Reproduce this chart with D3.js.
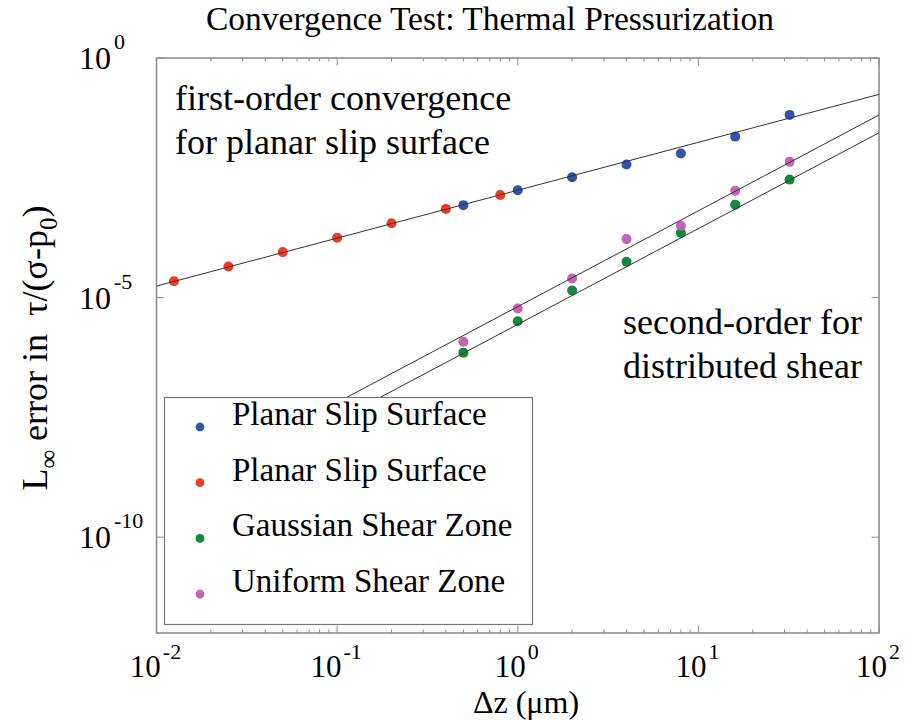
<!DOCTYPE html>
<html>
<head>
<meta charset="utf-8">
<script src="https://cdn.jsdelivr.net/npm/d3@7"></script>
<style>
  body { margin: 0; background: #fff; }
  text { font-family: "Liberation Serif", "Times New Roman", serif; fill: #000; }
</style>
</head>
<body>
<svg id="chart" width="921" height="721"></svg>
<script>
// grid spacing (um)
var dzFine = [0.0125, 0.025, 0.05, 0.1, 0.2, 0.4, 0.8];
var dzCoarse = [0.5, 1, 2, 4, 8, 16, 32];

// L-infinity errors
var planarBlue = [8.5e-4, 1.74e-3, 3.24e-3, 6.0e-3, 1.02e-2, 2.29e-2, 6.5e-2];
var planarRed = [2.19e-5, 4.47e-5, 8.9e-5, 1.78e-4, 3.55e-4, 7.1e-4, 1.38e-3];
var gaussian = [7.1e-7, 3.2e-6, 1.41e-5, 5.6e-5, 2.24e-4, 8.7e-4, 2.9e-3];
var uniform = [1.2e-6, 5.9e-6, 2.5e-5, 1.66e-4, 3.16e-4, 1.7e-3, 6.8e-3];

// reference slopes: [dz, error] end points
var fitFirst = [[0.01, 1.74e-5], [100, 0.174]];
var fitUniform = [[0.05, 1.62e-8], [100, 6.46e-2]];
var fitGaussian = [[0.05, 6.9e-9], [100, 2.75e-2]];

var xTicks = [1e-2, 1e-1, 1e0, 1e1, 1e2];
var yTicks = [1e0, 1e-5, 1e-10];

var legendNames = ['Planar Slip Surface', 'Planar Slip Surface', 'Gaussian Shear Zone', 'Uniform Shear Zone'];
var colors = ['#3352a8', '#ee3a24', '#13893f', '#c464b6'];

var svg = d3.select('#chart');
var m = {left: 156.5, right: 879, top: 58, bottom: 633};

var x = d3.scaleLog().domain([1e-2, 1e2]).range([m.left, m.right]);
var y = d3.scaleLog().domain([1e-12, 1]).range([m.bottom, m.top]);

var axisColor = '#8c8c8c';

// title
svg.append('text')
    .attr('x', 490).attr('y', 30)
    .attr('text-anchor', 'middle')
    .style('font-size', '33.5px')
    .text('Convergence Test: Thermal Pressurization');

// clip for the lines
svg.append('clipPath').attr('id', 'plotclip')
  .append('rect')
    .attr('x', m.left).attr('y', m.top)
    .attr('width', m.right - m.left).attr('height', m.bottom - m.top);

var ticksG = svg.append('g');

// x ticks, major and minor, bottom and top
var minor = [];
for (var e = -2; e < 2; e++) {
    for (var k = 2; k <= 9; k++) { minor.push(k * Math.pow(10, e)); }
}
minor.forEach(function (v) {
    ticksG.append('line').attr('x1', x(v)).attr('x2', x(v))
        .attr('y1', m.bottom).attr('y2', m.bottom - 3.5);
    ticksG.append('line').attr('x1', x(v)).attr('x2', x(v))
        .attr('y1', m.top).attr('y2', m.top + 3.5);
});
xTicks.forEach(function (v) {
    ticksG.append('line').attr('x1', x(v)).attr('x2', x(v))
        .attr('y1', m.bottom).attr('y2', m.bottom - 7.5);
    ticksG.append('line').attr('x1', x(v)).attr('x2', x(v))
        .attr('y1', m.top).attr('y2', m.top + 7.5);
});
yTicks.forEach(function (v) {
    ticksG.append('line').attr('y1', y(v)).attr('y2', y(v))
        .attr('x1', m.left).attr('x2', m.left + 7.5);
    ticksG.append('line').attr('y1', y(v)).attr('y2', y(v))
        .attr('x1', m.right).attr('x2', m.right - 7.5);
});
ticksG.selectAll('line').attr('stroke', axisColor).attr('stroke-width', 1);

// frame
svg.append('rect')
    .attr('x', m.left).attr('y', m.top)
    .attr('width', m.right - m.left).attr('height', m.bottom - m.top)
    .attr('fill', 'none').attr('stroke', axisColor).attr('stroke-width', 1.6);

function expOf(v) { return Math.round(Math.log10(v)); }

// x tick labels
xTicks.forEach(function (v) {
    var t = svg.append('text')
        .attr('x', x(v) - 1).attr('y', 677)
        .attr('text-anchor', 'middle')
        .style('font-size', '31px');
    t.append('tspan').text('10');
    t.append('tspan').attr('dy', -18).attr('dx', 2).style('font-size', '22px').text(expOf(v));
});

// y tick labels, left aligned like matlab
yTicks.forEach(function (v) {
    var t = svg.append('text')
        .attr('x', 79).attr('y', y(v) + 11)
        .style('font-size', '32px');
    t.append('tspan').text('10');
    t.append('tspan').attr('dy', -20).attr('dx', 3).style('font-size', '22px').text(expOf(v));
});

// axis labels
svg.append('text')
    .attr('x', 526).attr('y', 713)
    .attr('text-anchor', 'middle')
    .style('font-size', '32px')
    .text('\u0394z (\u03bcm)');

var yl = svg.append('text')
    .attr('transform', 'translate(47,348) rotate(-90)')
    .attr('text-anchor', 'middle')
    .style('font-size', '36px');
yl.append('tspan').text('L');
yl.append('tspan').attr('dy', 10).style('font-size', '26px').text('\u221e');
yl.append('tspan').attr('dy', -10).text(' error in\u00a0 \u03c4/(\u03c3-p');
yl.append('tspan').attr('dy', 10).style('font-size', '25px').text('0');
yl.append('tspan').attr('dy', -10).text(')');

// reference lines
var line = d3.line()
    .x(function (d) { return x(d[0]); })
    .y(function (d) { return y(d[1]); });

var linesG = svg.append('g').attr('clip-path', 'url(#plotclip)');

// dots
var series = [
    {dz: dzCoarse, err: planarBlue, color: colors[0]},
    {dz: dzFine, err: planarRed, color: colors[1]},
    {dz: dzCoarse, err: gaussian, color: colors[2]},
    {dz: dzCoarse, err: uniform, color: colors[3]}
];
series.forEach(function (s) {
    linesG.selectAll(null)
        .data(d3.zip(s.dz, s.err))
      .enter().append('circle')
        .attr('cx', function (d) { return x(d[0]); })
        .attr('cy', function (d) { return y(d[1]); })
        .attr('r', 5)
        .attr('fill', s.color);
});

[fitFirst, fitUniform, fitGaussian].forEach(function (f) {
    linesG.append('path')
        .attr('d', line(f))
        .attr('fill', 'none')
        .attr('stroke', '#333')
        .attr('stroke-width', 1);
});

// annotations
var noteSize = '36px';
svg.append('text').attr('x', 175).attr('y', 110)
    .style('font-size', noteSize).text('first-order convergence');
svg.append('text').attr('x', 175).attr('y', 154)
    .style('font-size', noteSize).text('for planar slip surface');
svg.append('text').attr('x', 623).attr('y', 334)
    .style('font-size', noteSize).text('second-order for');
svg.append('text').attr('x', 623).attr('y', 378)
    .style('font-size', noteSize).text('distributed shear');

// legend
var lg = svg.append('g');
lg.append('rect')
    .attr('x', 164.5).attr('y', 397.5)
    .attr('width', 368).attr('height', 227)
    .attr('fill', '#fff').attr('stroke', '#777').attr('stroke-width', 1.2);

legendNames.forEach(function (name, i) {
    var cy = 427 + i * 55.7;
    lg.append('circle').attr('cx', 200).attr('cy', cy).attr('r', 4.4).attr('fill', colors[i]);
    lg.append('text').attr('x', 232).attr('y', cy - 2)
        .style('font-size', '33px').text(name);
});
</script>
</body>
</html>
